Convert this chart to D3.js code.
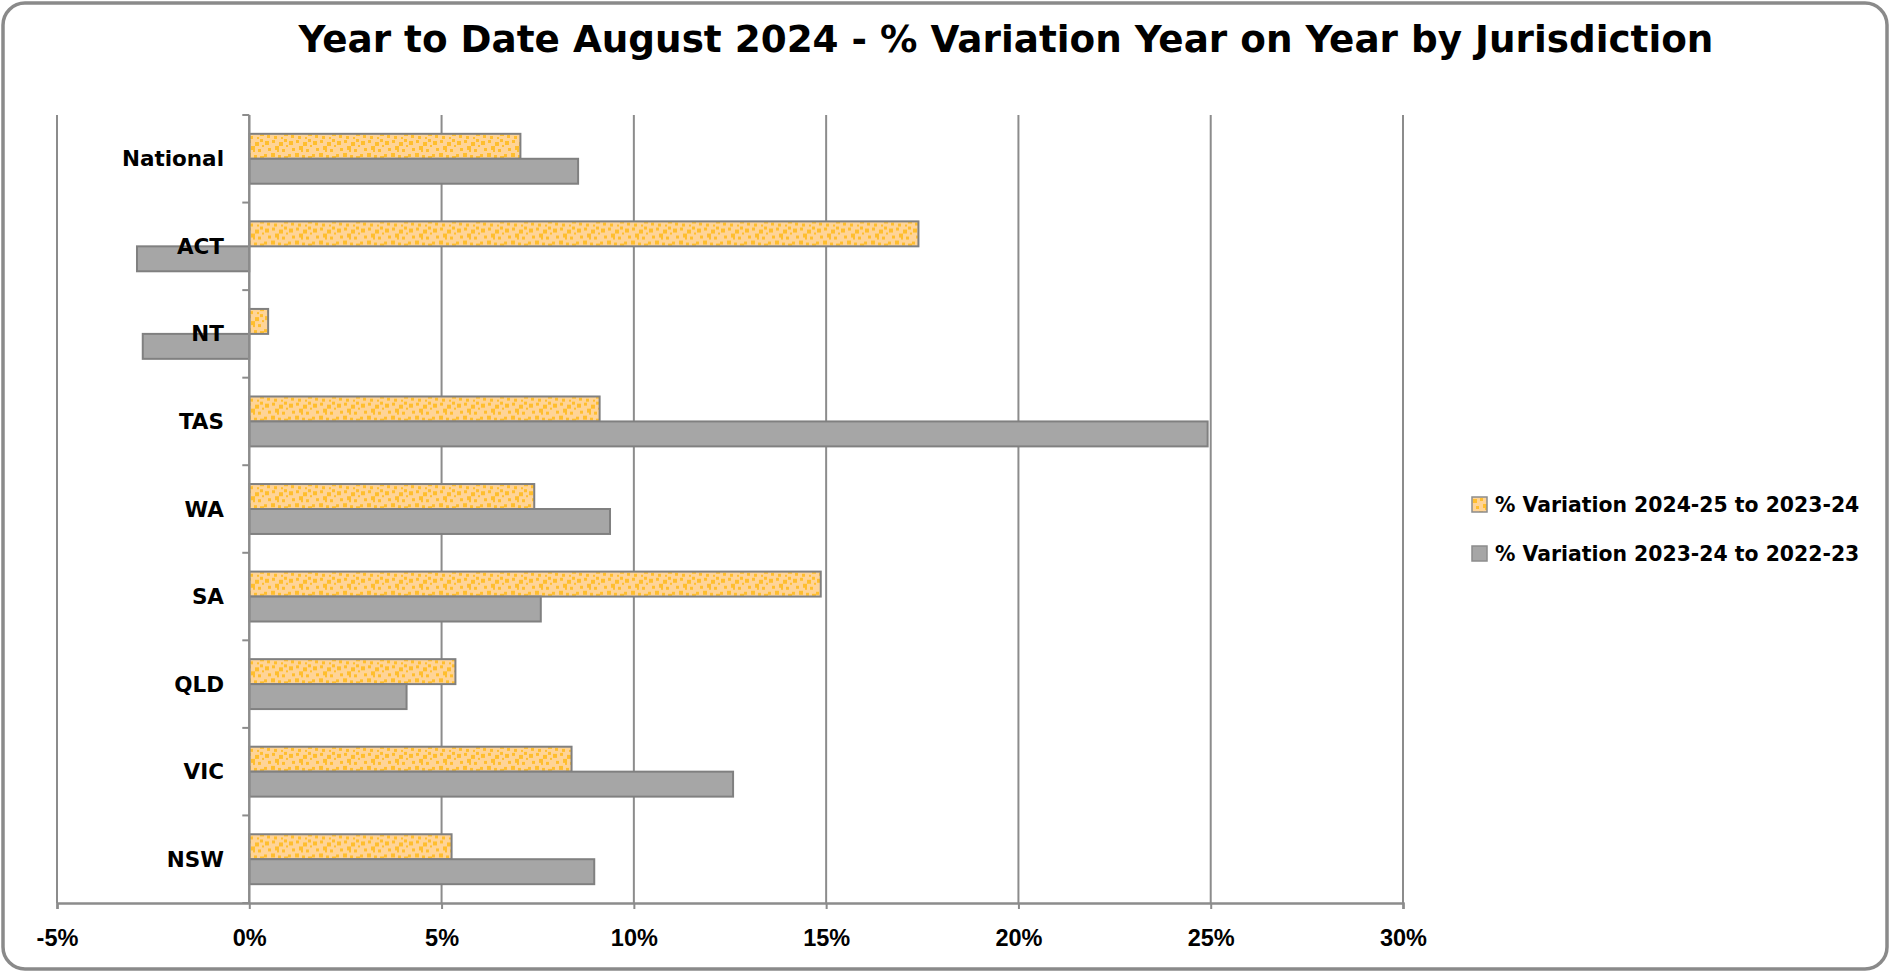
<!DOCTYPE html>
<html>
<head>
<meta charset="utf-8">
<script src="https://cdn.jsdelivr.net/npm/d3@7"></script>
<style>
  body { margin: 0; background: #fff; }
  text { font-family: "DejaVu Sans", sans-serif; font-weight: 700; fill: #000; }
</style>
</head>
<body>
<script>
// chart data
var categories = ["National", "ACT", "NT", "TAS", "WA", "SA", "QLD", "VIC", "NSW"];
var seriesNames = ["% Variation 2024-25 to 2023-24", "% Variation 2023-24 to 2022-23"];
var var2425 = [7.05, 17.40, 0.49, 9.11, 7.41, 14.86, 5.36, 8.38, 5.26];
var var2324 = [8.55, -2.92, -2.77, 24.92, 9.38, 7.58, 4.09, 12.58, 8.97];
var xTicks = [-5, 0, 5, 10, 15, 20, 25, 30];
var title = "Year to Date August 2024 - % Variation Year on Year by Jurisdiction";

var width = 1890, height = 973;
var plot = {left: 57, right: 1403, top: 115, bottom: 903};

var svg = d3.select("body").append("svg")
    .attr("width", width)
    .attr("height", height);

// dotted orange fill
var defs = svg.append("defs");
var pat = defs.append("pattern")
    .attr("id", "dots")
    .attr("patternUnits", "userSpaceOnUse")
    .attr("width", 24).attr("height", 24);
pat.append("rect").attr("width", 24).attr("height", 24).attr("fill", "#FFD497");
var sq = [[1,2,4],[8,1,3],[15,3,4],[20,0,3],[4,9,3],[11,7,4],[18,10,3],[0,15,3],
          [7,14,4],[14,16,3],[20,17,4],[3,20,3],[10,21,3],[17,22,2],[22,6,2],[13,11,2]];
sq.forEach(function(s){
    pat.append("rect").attr("x", s[0]).attr("y", s[1])
        .attr("width", s[2]).attr("height", s[2]).attr("fill", "#FFBE2E");
});

// outer frame
svg.append("rect")
    .attr("x", 3).attr("y", 3)
    .attr("width", width - 6).attr("height", height - 7)
    .attr("rx", 22).attr("ry", 22)
    .attr("fill", "#fff")
    .attr("stroke", "#8a8a8a")
    .attr("stroke-width", 3.5);

var t = svg.append("text")
    .attr("x", 1006).attr("y", 52)
    .attr("text-anchor", "middle")
    .style("font-size", "40px")
    .text(title);
// fit title to the width seen in the picture
var tw = t.node().getComputedTextLength();
t.style("font-size", (40 * 1415 / tw) + "px");

var x = d3.scaleLinear().domain([-5, 30]).range([plot.left, plot.right]);
var y0 = d3.scaleBand().domain(categories).range([plot.top, plot.bottom]);
var step = y0.step();
var y1 = d3.scaleBand().domain(seriesNames).range([0.215 * step, 0.785 * step]);

// gridlines
svg.append("g").selectAll("line")
    .data(xTicks.filter(function(d){ return d !== 0; }))
    .join("line")
    .attr("x1", function(d){ return x(d); })
    .attr("x2", function(d){ return x(d); })
    .attr("y1", plot.top).attr("y2", plot.bottom)
    .attr("stroke", "#8c8c8c").attr("stroke-width", 2);

// x axis
var xAxis = svg.append("g")
    .attr("transform", "translate(0," + plot.bottom + ")")
    .call(d3.axisBottom(x).tickValues(xTicks).tickSize(6).tickPadding(20)
        .tickFormat(function(d){ return d + "%"; }));
xAxis.select(".domain").attr("stroke", "#8c8c8c").attr("stroke-width", 2.5);
xAxis.selectAll(".tick line").attr("stroke", "#8c8c8c").attr("stroke-width", 2);
xAxis.selectAll("text")
    .style("font-family", "'Liberation Sans', Arial, sans-serif")
    .style("font-size", "23.5px").attr("fill", "#000");

// bars
var rows = categories.map(function(c, i){
    return {cat: c, vals: [var2425[i], var2324[i]]};
});
var fills = ["url(#dots)", "#a6a6a6"];

var groups = svg.append("g").selectAll("g")
    .data(rows)
    .join("g")
    .attr("transform", function(d){ return "translate(0," + y0(d.cat) + ")"; });

groups.selectAll("rect")
    .data(function(d){ return d.vals.map(function(v, j){ return {s: seriesNames[j], v: v, j: j}; }); })
    .join("rect")
    .attr("x", function(d){ return x(Math.min(0, d.v)); })
    .attr("y", function(d){ return y1(d.s); })
    .attr("width", function(d){ return Math.abs(x(d.v) - x(0)); })
    .attr("height", y1.bandwidth())
    .attr("fill", function(d){ return fills[d.j]; })
    .attr("stroke", "#808080")
    .attr("stroke-width", 2);

// y axis (the 0% line) with ticks at band edges
var yAxis = svg.append("g");
yAxis.append("line")
    .attr("x1", x(0)).attr("x2", x(0))
    .attr("y1", plot.top).attr("y2", plot.bottom)
    .attr("stroke", "#8c8c8c").attr("stroke-width", 2.5);
var edges = categories.map(function(c){ return y0(c); }).concat([plot.bottom]);
yAxis.selectAll(".yt")
    .data(edges)
    .join("line")
    .attr("class", "yt")
    .attr("x1", x(0) - 7).attr("x2", x(0))
    .attr("y1", function(d){ return d; }).attr("y2", function(d){ return d; })
    .attr("stroke", "#8c8c8c").attr("stroke-width", 2);

svg.append("g").selectAll("text")
    .data(categories)
    .join("text")
    .attr("x", 224)
    .attr("y", function(d){ return y0(d) + step / 2; })
    .attr("dy", "0.35em")
    .attr("text-anchor", "end")
    .style("font-size", "21.5px")
    .text(function(d){ return d; });

// legend
var legend = svg.append("g").attr("transform", "translate(1472,497)");
var li = legend.selectAll("g")
    .data(seriesNames)
    .join("g")
    .attr("transform", function(d, i){ return "translate(0," + (i * 49) + ")"; });
li.append("rect")
    .attr("width", 15).attr("height", 15)
    .attr("fill", function(d, i){ return fills[i]; })
    .attr("stroke", "#8c8c8c").attr("stroke-width", 1.5);
li.append("text")
    .attr("x", 23).attr("y", 8)
    .attr("dy", "0.36em")
    .style("font-size", "20.4px")
    .text(function(d){ return d; });
</script>
</body>
</html>
